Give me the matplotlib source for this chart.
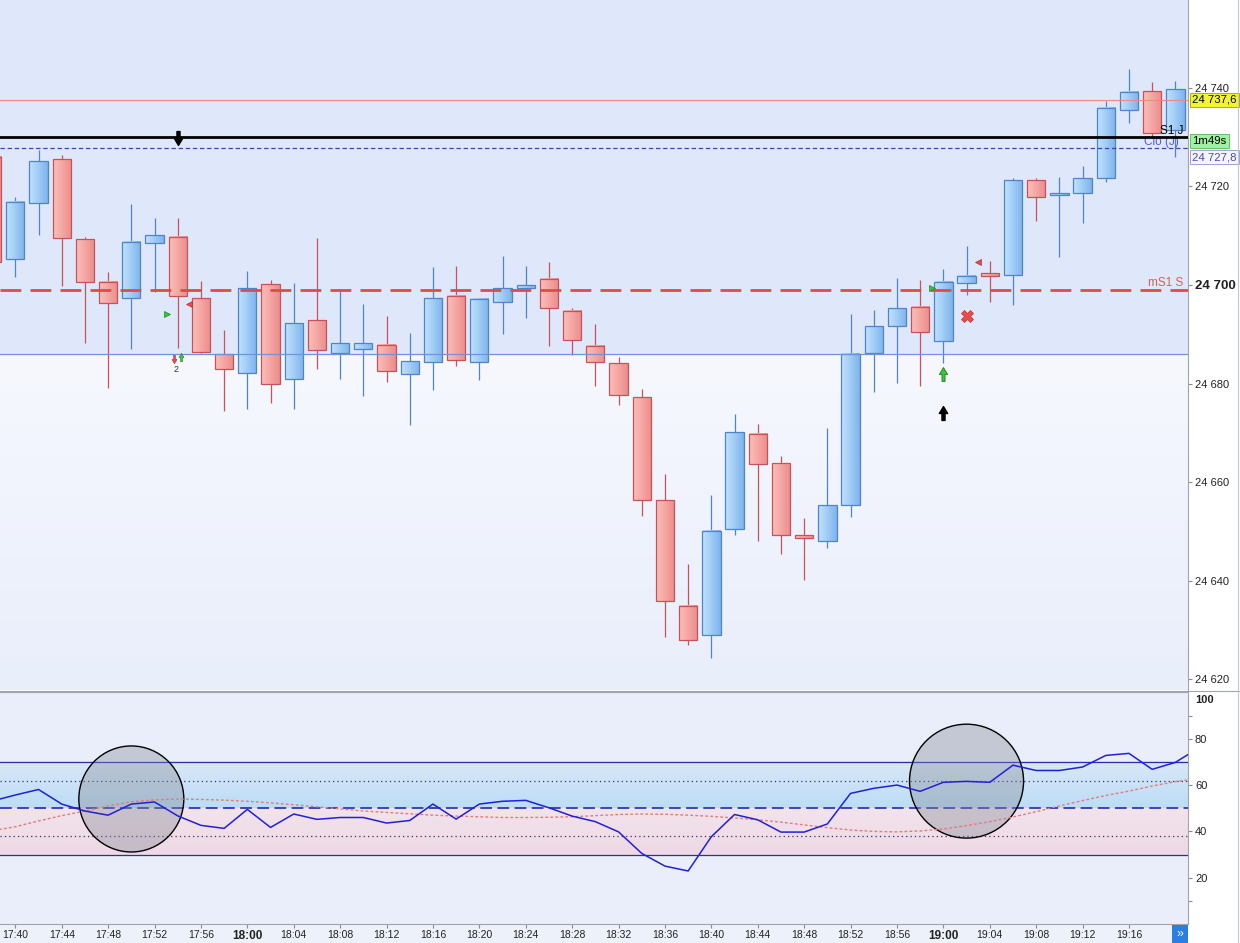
import numpy as np
import matplotlib
matplotlib.use("Agg")
import matplotlib.pyplot as plt
from matplotlib.colors import LinearSegmentedColormap
from matplotlib.patches import Rectangle, Ellipse
from matplotlib.lines import Line2D
from matplotlib.path import Path

plt.rcParams['font.family'] = ['Liberation Sans', 'DejaVu Sans']

# ---- data (2 min bars) ----
bar_times = ["17:38", "17:40", "17:42", "17:44", "17:46", "17:48", "17:50", "17:52",
             "17:54", "17:56", "17:58", "18:00", "18:02", "18:04", "18:06", "18:08",
             "18:10", "18:12", "18:14", "18:16", "18:18", "18:20", "18:22", "18:24",
             "18:26", "18:28", "18:30", "18:32", "18:34", "18:36", "18:38", "18:40",
             "18:42", "18:44", "18:46", "18:48", "18:50", "18:52", "18:54", "18:56",
             "18:58", "19:00", "19:02", "19:04", "19:06", "19:08", "19:10", "19:12",
             "19:14", "19:16", "19:18", "19:20"]
opens = [24726.0, 24705.2, 24716.6, 24725.5, 24709.3, 24700.7, 24697.3, 24708.5,
         24709.7, 24697.3, 24685.9, 24682.1, 24700.1, 24680.9, 24692.8, 24686.3,
         24687.1, 24687.8, 24681.9, 24684.4, 24697.7, 24684.3, 24696.5, 24699.3,
         24701.2, 24694.7, 24687.7, 24684.1, 24677.2, 24656.4, 24634.9, 24629.1,
         24650.6, 24669.7, 24663.8, 24649.3, 24648.0, 24655.3, 24686.3, 24691.7,
         24695.6, 24688.7, 24700.3, 24702.4, 24702.0, 24721.2, 24718.2, 24718.6,
         24721.6, 24735.4, 24739.3, 24731.4]
highs = [24728.0, 24717.9, 24727.4, 24726.4, 24709.8, 24702.6, 24716.4, 24713.5,
         24713.5, 24700.8, 24690.9, 24702.8, 24701.0, 24700.5, 24709.5, 24698.7,
         24696.1, 24693.7, 24690.3, 24703.7, 24703.9, 24697.3, 24705.9, 24703.9,
         24704.7, 24695.3, 24692.0, 24685.4, 24678.8, 24661.6, 24643.5, 24657.5,
         24673.8, 24671.8, 24665.3, 24652.8, 24670.9, 24694.1, 24694.9, 24701.5,
         24701.0, 24703.2, 24708.0, 24704.9, 24721.6, 24721.6, 24721.8, 24724.1,
         24737.4, 24743.8, 24741.2, 24741.3]
lows = [24702.0, 24701.7, 24710.1, 24699.7, 24688.2, 24679.2, 24687.1, 24698.5,
        24687.3, 24686.3, 24674.5, 24674.8, 24676.1, 24674.8, 24682.9, 24680.9,
        24677.5, 24680.4, 24671.5, 24678.7, 24683.6, 24680.7, 24690.0, 24693.2,
        24687.7, 24685.7, 24679.6, 24675.7, 24653.2, 24628.7, 24626.9, 24624.4,
        24649.2, 24648.1, 24645.4, 24640.2, 24646.7, 24653.0, 24678.2, 24680.2,
        24679.6, 24684.1, 24697.9, 24696.6, 24695.9, 24713.0, 24705.7, 24712.5,
        24720.8, 24732.8, 24729.8, 24726.0]
closes = [24704.7, 24716.8, 24725.1, 24709.5, 24700.7, 24696.3, 24708.7, 24710.1,
          24697.7, 24686.5, 24682.9, 24699.3, 24679.9, 24692.2, 24686.8, 24688.2,
          24688.2, 24682.5, 24684.5, 24697.3, 24684.7, 24697.1, 24699.3, 24699.9,
          24695.3, 24688.8, 24684.3, 24677.7, 24656.4, 24636.0, 24628.0, 24650.2,
          24670.1, 24663.6, 24649.3, 24648.7, 24655.3, 24686.1, 24691.7, 24695.3,
          24690.5, 24700.7, 24701.8, 24701.8, 24721.2, 24717.8, 24718.6, 24721.6,
          24735.8, 24739.1, 24730.8, 24739.7]

# oscillator (one extra slot at 19:22, running off the right edge)
osc_times = bar_times + ["19:22"]
osc = [53.1, 55.7, 58.1, 51.8, 48.8, 47.0, 51.8, 52.7, 46.7, 42.6, 41.3, 49.5,
       41.7, 47.5, 45.2, 46.0, 46.0, 43.6, 44.7, 51.8, 45.3, 51.8, 53.0, 53.4,
       50.2, 46.6, 44.2, 39.8, 30.5, 25.0, 22.9, 37.7, 47.3, 45.0, 39.7, 39.7,
       43.2, 56.4, 58.6, 60.0, 57.3, 61.2, 61.6, 61.2, 68.6, 66.3, 66.3, 67.8,
       72.8, 73.7, 66.8, 69.8, 76.0]
osc_signal = [40.3, 42.0, 44.5, 46.8, 48.8, 51.0, 52.8, 53.6, 54.0, 53.8, 53.5, 53.0,
              52.3, 51.5, 50.6, 49.7, 48.8, 48.2, 47.6, 47.0, 46.6, 46.3, 46.0, 46.0,
              46.1, 46.3, 46.8, 47.3, 47.5, 47.4, 47.0, 46.5, 45.8, 45.0, 44.0, 42.8,
              41.6, 40.6, 40.0, 39.8, 40.2, 41.0, 42.5, 44.2, 46.2, 48.5, 51.0, 53.3,
              55.5, 57.4, 59.6, 61.5, 62.8]

price_ticks = [24620, 24640, 24660, 24680, 24700, 24720, 24740]
osc_ticks = [20, 40, 60, 80]
time_ticks = ["17:40", "17:44", "17:48", "17:52", "17:56", "18:00", "18:04", "18:08",
              "18:12", "18:16", "18:20", "18:24", "18:28", "18:32", "18:36", "18:40",
              "18:44", "18:48", "18:52", "18:56", "19:00", "19:04", "19:08", "19:12",
              "19:16"]

last_price = 24737.6
s1_j = 24730.0
close_j = 24727.8
ms1_s = 24699.0
zone_top = 24685.9


def to_min(s):
    hh, mm = s.split(":")
    return (int(hh) - 17) * 60 + int(mm)


def fmt_price(p):
    return "{:,}".format(p).replace(",", " ")


t = np.array([to_min(s) for s in bar_times])
t_osc = np.array([to_min(s) for s in osc_times])

W, H = 1240, 943
fig = plt.figure(figsize=(W / 100, H / 100), dpi=100)
fig.patch.set_facecolor("white")
fig.add_artist(Rectangle((0, 0), 1188 / W, 19 / H, transform=fig.transFigure,
                         fc="#edf1fa", ec="none", zorder=-5))

ax = fig.add_axes([0, 1 - 690 / H, 1188 / W, 690 / H])
ax2 = fig.add_axes([0, 1 - 924 / H, 1188 / W, 232 / H], sharex=ax)

xmin, xmax = 38.68, 141.09
ymin, ymax = 24617.85, 24757.8

# ---- main panel background ----
ax.axhspan(zone_top, ymax, color="#dfe8fb", zorder=0, lw=0)
vgrad = np.linspace(0, 1, 64).reshape(-1, 1)
bg_cmap = LinearSegmentedColormap.from_list("bg", ["#f6f8fe", "#e9eefb"])
ax.imshow(vgrad, extent=(xmin, xmax, ymin, zone_top), cmap=bg_cmap,
          aspect="auto", interpolation="bilinear", zorder=0)

# ---- candles ----
blue_cmap = LinearSegmentedColormap.from_list("b", ["#c2e3fd", "#7eb4ec"])
red_cmap = LinearSegmentedColormap.from_list("r", ["#fdbfbb", "#ec8c8b"])
hgrad = np.linspace(0, 1, 64).reshape(1, -1)
bw = 1.58
for ti, oi, hi, li, ci in zip(t, opens, highs, lows, closes):
    if ci >= oi:
        cm, edge = blue_cmap, "#4f84c8"
    else:
        cm, edge = red_cmap, "#c45459"
    ax.vlines(ti, li, hi, color=edge, lw=0.9, zorder=3)
    lo_b, hi_b = min(oi, ci), max(oi, ci)
    ax.imshow(hgrad, extent=(ti - bw / 2, ti + bw / 2, lo_b, hi_b), cmap=cm,
              aspect="auto", interpolation="bilinear", zorder=4)
    ax.add_patch(Rectangle((ti - bw / 2, lo_b), bw, hi_b - lo_b, fill=False,
                           ec=edge, lw=0.9, zorder=4.5))

# ---- levels ----
ax.axhline(last_price, color="#f08a8a", lw=0.8, zorder=5)
ax.axhline(s1_j, color="black", lw=2.0, zorder=5)
ax.axhline(close_j, color="#3a44b8", lw=0.9, dashes=(3.5, 2.2), zorder=5)
ax.axhline(ms1_s, color="#e04a4a", lw=2.0, dashes=(7.5, 3.3), zorder=5)
ax.axhline(zone_top, color="#6f93dc", lw=0.9, zorder=5)

ax.text(140.7, 24731.3, "S1 J", ha="right", va="center", fontsize=8.5,
        color="black", zorder=6)
ax.text(140.3, 24729.1, "Clô (J)", ha="right", va="center", fontsize=8.5,
        color="#5a5ac8", zorder=3.5)
ax.text(140.7, 24700.4, "mS1 S", ha="right", va="center", fontsize=8.5,
        color="#e05a5a", zorder=6)

# ---- signal markers ----
arrow_up = Path([(-0.22, -1), (0.22, -1), (0.22, 0), (0.6, 0), (0, 1),
                 (-0.6, 0), (-0.22, 0), (-0.22, -1)],
                [Path.MOVETO] + [Path.LINETO] * 6 + [Path.CLOSEPOLY])
arrow_down = Path(arrow_up.vertices * np.array([1, -1]), arrow_up.codes)

ax.plot(54.0, 24729.8, marker=arrow_down, ms=10, color="black", zorder=7)
ax.plot(120.0, 24681.9, marker=arrow_up, ms=10, mfc="#3cc43c", mec="#1c7c1c",
        mew=0.6, zorder=7)
ax.plot(120.0, 24674.1, marker=arrow_up, ms=10, color="black", zorder=7)
ax.plot(122.0, 24693.7, marker="X", ms=9, mfc="#e84c4c", mec="#c83030",
        mew=0.5, zorder=7)
ax.plot(53.1, 24694.1, marker=">", ms=5, mfc="#3cc43c", mec="#1c8c1c",
        mew=0.5, zorder=7)
ax.plot(119.0, 24699.3, marker=">", ms=5, mfc="#3cc43c", mec="#1c8c1c",
        mew=0.5, zorder=7)
ax.plot(54.97, 24696.2, marker="<", ms=5, mfc="#e84c4c", mec="#b03030",
        mew=0.5, zorder=7)
ax.plot(122.95, 24704.7, marker="<", ms=5, mfc="#e84c4c", mec="#b03030",
        mew=0.5, zorder=7)
ax.plot(53.72, 24685.0, marker=arrow_down, ms=6, mfc="#e84c4c", mec="#b03030",
        mew=0.4, zorder=7)
ax.plot(54.24, 24685.4, marker=arrow_up, ms=6, mfc="#3cc43c", mec="#1c7c1c",
        mew=0.4, zorder=7)
ax.text(53.9, 24682.8, "2", ha="center", va="center", fontsize=6.5,
        color="#333333", zorder=7)

# ---- main axes formatting ----
ax.set_xlim(xmin, xmax)
ax.set_ylim(ymin, ymax)
ax.yaxis.tick_right()
ax.set_yticks(price_ticks)
ax.set_yticklabels([fmt_price(p) for p in price_ticks])
for lbl in ax.get_yticklabels():
    lbl.set_fontsize(8)
    if lbl.get_text() == "24 700":
        lbl.set_fontweight("bold")
        lbl.set_fontsize(9.5)
ax.tick_params(axis="y", length=3, width=0.8, color="#8a8a8a", pad=2,
               labelcolor="#222222")
ax.tick_params(axis="x", bottom=False, labelbottom=False)
for side in ("top", "left", "bottom"):
    ax.spines[side].set_visible(False)
ax.spines["right"].set_color("#a0a4ac")

box_tr = ax.get_yaxis_transform()
ax.text(1.0036, last_price, "24 737,6", transform=box_tr, ha="left", va="center",
        fontsize=8.2, color="black", clip_on=False, zorder=8,
        bbox=dict(boxstyle="square,pad=0.18", fc="#f4f42c", ec="#b0b000", lw=0.7))
ax.text(1.0036, 24729.2, "1m49s", transform=box_tr, ha="left", va="center",
        fontsize=8.2, color="black", clip_on=False, zorder=8,
        bbox=dict(boxstyle="square,pad=0.18", fc="#a2f0a2", ec="#62c262", lw=0.7))
ax.text(1.0036, 24725.9, "24 727,8", transform=box_tr, ha="left", va="center",
        fontsize=8.2, color="#4a4ab4", clip_on=False, zorder=8,
        bbox=dict(boxstyle="square,pad=0.18", fc="#f5f5ff", ec="#a0a0d8", lw=0.7))

# ---- oscillator panel ----
ax2.set_facecolor("#e9eefa")
band_hi = LinearSegmentedColormap.from_list("bh", ["#d9e8f8", "#bcdcf6"])
band_lo = LinearSegmentedColormap.from_list("bl", ["#f2e3ed", "#eed9e4"])
ax2.imshow(vgrad, extent=(xmin, xmax, 50, 70), cmap=band_hi, aspect="auto",
           interpolation="bilinear", zorder=0)
ax2.imshow(vgrad, extent=(xmin, xmax, 30, 50), cmap=band_lo, aspect="auto",
           interpolation="bilinear", zorder=0)
ax2.axhline(70, color="#2c2cb0", lw=0.9, zorder=1)
ax2.axhline(30, color="#2c2cb0", lw=0.9, zorder=1)
ax2.axhline(61.8, color="#30306a", lw=0.9, ls=(0, (1, 2.5)), zorder=1)
ax2.axhline(38.2, color="#30306a", lw=0.9, ls=(0, (1, 2.5)), zorder=1)
ax2.axhline(50, color="#2a3cb8", lw=1.3, dashes=(6.5, 3), zorder=1)

ax2.add_patch(Ellipse((50.0, 54.0), 9.05, 45.8, fc=(0.52, 0.54, 0.59, 0.38),
                      ec="black", lw=1.0, zorder=2))
ax2.add_patch(Ellipse((122.0, 61.7), 9.83, 49.2, fc=(0.52, 0.54, 0.59, 0.38),
                      ec="black", lw=1.0, zorder=2))

ax2.plot(t_osc, osc_signal, color="#e07c7c", lw=1.0, dashes=(2, 1.6), zorder=3)
ax2.plot(t_osc, osc, color="#2020dc", lw=1.1, zorder=4)

ax2.set_xlim(xmin, xmax)
ax2.set_ylim(0, 100.2)
ax2.yaxis.tick_right()
ax2.set_yticks(osc_ticks)
ax2.set_yticks([10, 90], minor=True)
ax2.tick_params(axis="y", which="major", length=3, width=0.8, color="#8a8a8a",
                pad=2, labelsize=8, labelcolor="#222222")
ax2.tick_params(axis="y", which="minor", length=3, width=0.8, color="#8a8a8a")
ax2.text(1.0065, 96.6, "100", transform=ax2.get_yaxis_transform(), ha="left",
         va="center", fontsize=8, fontweight="bold", color="#222222", clip_on=False)

ax2.set_xticks([to_min(s) for s in time_ticks])
ax2.set_xticklabels(time_ticks)
for lbl in ax2.get_xticklabels():
    lbl.set_fontsize(7.5)
    if lbl.get_text().endswith(":00"):
        lbl.set_fontweight("bold")
        lbl.set_fontsize(8.5)
ax2.tick_params(axis="x", length=3, width=0.8, color="#8a8a8a", pad=1.5,
                labelcolor="#222222")
ax2.spines["left"].set_visible(False)
for side in ("top", "right", "bottom"):
    ax2.spines[side].set_color("#a0a4ac")

# panel separator across the price strip and window edge on the right
fig.add_artist(Line2D([0, 1], [1 - 691 / H, 1 - 691 / H], transform=fig.transFigure,
                      color="#a0a4ac", lw=0.8, zorder=9))
fig.add_artist(Line2D([1238 / W, 1238 / W], [0, 1], transform=fig.transFigure,
                      color="#c4c8d0", lw=0.8, zorder=9))

# scroll button bottom right
fig.add_artist(Rectangle((1172 / W, 0), 16 / W, 18 / H, transform=fig.transFigure,
                         fc="#2a7fe0", ec="none", zorder=10))
fig.text(1180 / W, 9 / H, "»", ha="center", va="center", color="white",
         fontsize=9, zorder=11)

fig.savefig("out.png", dpi=100, facecolor=fig.get_facecolor())
